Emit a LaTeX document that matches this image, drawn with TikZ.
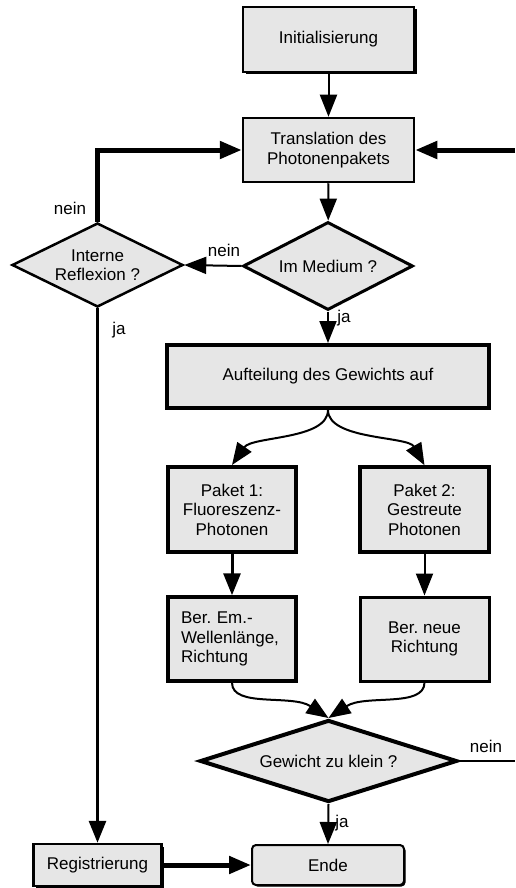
\documentclass[tikz,border=0pt]{standalone}
\usepackage{fontspec}
\setmainfont{Liberation Sans}
\usetikzlibrary{shapes.geometric,arrows.meta,shadows}
\definecolor{boxfill}{RGB}{230,230,230}
\frenchspacing
\begin{document}
\begin{tikzpicture}[x=1pt,y=-1pt,
  font=\fontsize{17}{19.5}\selectfont\frenchspacing,
  box/.style={draw, fill=boxfill, rectangle, inner sep=0pt, align=center},
  dia/.style={draw, fill=boxfill, diamond, inner sep=0pt, align=center},
  sh/.style={drop shadow={shadow xshift=2.5pt, shadow yshift=-2.5pt, opacity=1, fill=black}},
  arr/.style={-{Triangle[length=22pt,width=17pt]}},
  thin/.style={line width=2pt},
  mid/.style={line width=3pt},
  thick/.style={line width=5pt},
  lbl/.style={inner sep=0pt}]
\useasboundingbox (0,0) rectangle (515,888);

% nodes
\node[box,sh,line width=2.5pt,minimum width=171pt,minimum height=65pt] (init) at (328.5,39.5) {Initialisierung};
\node[box,line width=2.5pt,minimum width=171pt,minimum height=64pt] (trans) at (328.5,150) {Translation des\\Photonenpakets};
\node[dia,aspect=1.93,line width=3pt,minimum width=170pt,minimum height=88pt] (med) at (328,266) {Im Medium ?};
\node[dia,aspect=2.04,line width=2.5pt,minimum width=171pt,minimum height=84pt] (int) at (97.5,265) {Interne\\Reflexion ?};
\node[box,line width=4pt,minimum width=322pt,minimum height=63pt] (auf) at (328,376.5) {Aufteilung des Gewichts auf};
\node[box,line width=4pt,minimum width=128pt,minimum height=85pt] (p1) at (232,509.5) {Paket 1:\\Fluoreszenz-\\Photonen};
\node[box,line width=3.5pt,minimum width=129pt,minimum height=85pt] (p2) at (424.5,509.5) {Paket 2:\\Gestreute\\Photonen};
\node[box,line width=3.5pt,minimum width=128pt,minimum height=84pt,text width=102pt,align=left] (b1) at (232,639) {Ber. Em.-\\Wellenlänge,\\Richtung};
\node[box,line width=3pt,minimum width=129pt,minimum height=84pt] (b2) at (424.5,639) {Ber. neue\\Richtung};
\node[dia,aspect=3.13,line width=4pt,minimum width=257pt,minimum height=82pt] (gew) at (328.5,761) {Gewicht zu klein ?};
\node[box,line width=2pt,rounded corners=4pt,minimum width=152pt,minimum height=40pt,
  drop shadow={shadow xshift=1.5pt, shadow yshift=-1.5pt, opacity=1, fill=black}] (ende) at (328,865) {Ende};
\node[box,sh,line width=2.5pt,minimum width=128pt,minimum height=42pt] (reg) at (97.5,865) {Registrierung};

\coordinate (rin) at (515,150);
\coordinate (corner) at (97.5,150);
\coordinate (rout) at (515,761);

% connectors
\draw[thin,arr] (init) -- (trans);
\draw[thin,arr] (trans) -- (med);
\draw[thin,arr] (med.west) -- (int.east);
\draw[thick,arr] (int.north) -- (corner) -- (trans.west);
\draw[thick,arr] (rin) -- (trans.east);
\draw[thin,arr] (med.south) -- (auf.north);
\draw[thin,arr] (auf.south) .. controls (328,440) and (252,436) .. (p1.north);
\draw[thin,arr] (auf.south) .. controls (328,440) and (408,436) .. (p2.north);
\draw[mid,arr] (p1) -- (b1);
\draw[thin,arr] (p2) -- (b2);
\draw[thin,arr] (b1.south) .. controls (232,708) and (292,694) .. (gew.north);
\draw[thin,arr] (b2.south) .. controls (424.5,708) and (365,694) .. (gew.north);
\draw[thin] (gew.east) -- (rout);
\draw[thin,arr] (gew.south) -- (ende.north);
\draw[mid,arr] (int.south) -- (reg.north);
\draw[thick,arr] (reg.east) -- (ende.west);

% labels
\node[lbl] (l1) at (70,208) {nein};
\node[lbl] (l2) at (224,250) {nein};
\node[lbl] (l3) at (344,318) {ja};
\node[lbl] (l4) at (119,330) {ja};
\node[lbl] (l5) at (486,746) {nein};
\node[lbl] (l6) at (342,823) {ja};
\end{tikzpicture}
\end{document}
